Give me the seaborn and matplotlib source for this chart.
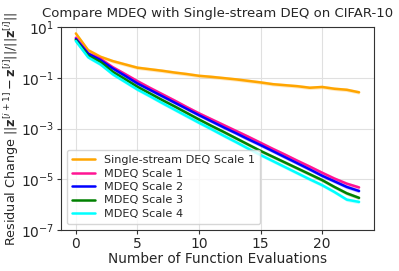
import numpy as np
import pandas as pd
import matplotlib
matplotlib.use("Agg")
import matplotlib.pyplot as plt
import matplotlib.ticker as mticker
import seaborn as sns

# number of function evaluations
nfe = list(range(24))

# log10 of the relative residual
single_deq_s1 = [0.75, 0.09, -0.17, -0.34, -0.47, -0.60, -0.66, -0.72, -0.79, -0.85,
                 -0.92, -0.96, -1.01, -1.06, -1.12, -1.18, -1.25, -1.29, -1.33, -1.39,
                 -1.36, -1.43, -1.47, -1.57]
mdeq_s1 = [0.58, -0.04, -0.25, -0.58, -0.85, -1.13, -1.39, -1.64, -1.89, -2.15,
           -2.40, -2.63, -2.86, -3.09, -3.32, -3.56, -3.80, -4.03, -4.27, -4.50,
           -4.74, -4.97, -5.17, -5.32]
mdeq_s2 = [0.53, -0.05, -0.30, -0.63, -0.92, -1.22, -1.47, -1.72, -1.97, -2.22,
           -2.47, -2.71, -2.95, -3.18, -3.42, -3.65, -3.89, -4.13, -4.37, -4.61,
           -4.86, -5.08, -5.30, -5.46]
mdeq_s3 = [0.49, -0.13, -0.37, -0.76, -1.05, -1.35, -1.61, -1.87, -2.12, -2.38,
           -2.64, -2.89, -3.13, -3.38, -3.63, -3.88, -4.11, -4.34, -4.57, -4.80,
           -5.03, -5.30, -5.55, -5.73]
mdeq_s4 = [0.45, -0.19, -0.47, -0.86, -1.16, -1.46, -1.72, -1.99, -2.25, -2.51,
           -2.77, -3.02, -3.28, -3.53, -3.79, -4.04, -4.28, -4.52, -4.76, -5.00,
           -5.23, -5.50, -5.80, -5.89]

labels = ["Single-stream DEQ Scale 1", "MDEQ Scale 1", "MDEQ Scale 2",
          "MDEQ Scale 3", "MDEQ Scale 4"]
colors = ["orange", "deeppink", "blue", "green", "cyan"]
series = [single_deq_s1, mdeq_s1, mdeq_s2, mdeq_s3, mdeq_s4]
yticks = [1e1, 1e-1, 1e-3, 1e-5, 1e-7]

sns.set_style("whitegrid", {"axes.edgecolor": "0.2", "grid.color": "0.88"})
plt.rcParams["font.family"] = ["DejaVu Sans"]

fig = plt.figure(figsize=(3.99, 2.71), dpi=100)
ax = fig.add_axes([0.153, 0.151, 0.784, 0.749])

for lab, col, vals in zip(labels, colors, series):
    y = 10 ** np.array(vals)
    df = pd.DataFrame({"nfe": nfe, "res": y})
    ax.fill_between(nfe, y * 0.85, y * 1.18, color=col, alpha=0.25, lw=0)
    sns.lineplot(data=df, x="nfe", y="res", color=col, lw=1.8, label=lab, ax=ax)

ax.set_yscale("log")
ax.set_ylim(1e-7, 10)
ax.set_xlim(-1.2, 24.2)
ax.set_yticks(yticks)
ax.yaxis.set_major_formatter(mticker.LogFormatterSciNotation(base=10))
ax.yaxis.set_minor_locator(mticker.NullLocator())
ax.set_xticks([0, 5, 10, 15, 20])
ax.tick_params(labelsize=10, length=3, pad=2, left=True, bottom=True, color="0.2")

ax.set_title("Compare MDEQ with Single-stream DEQ on CIFAR-10", fontsize=9.5, pad=7)
ax.set_xlabel("Number of Function Evaluations", fontsize=9.8, labelpad=1)
ax.set_ylabel(r"Residual Change $||\mathbf{z}^{[i+1]}-\mathbf{z}^{[i]}||/||\mathbf{z}^{[i]}||$",
              fontsize=9.2, labelpad=0)
ax.legend(loc="lower left", fontsize=8.1, handlelength=2.0, borderpad=0.5,
          labelspacing=0.3, framealpha=0.8)

fig.savefig("out.png", dpi=100)
